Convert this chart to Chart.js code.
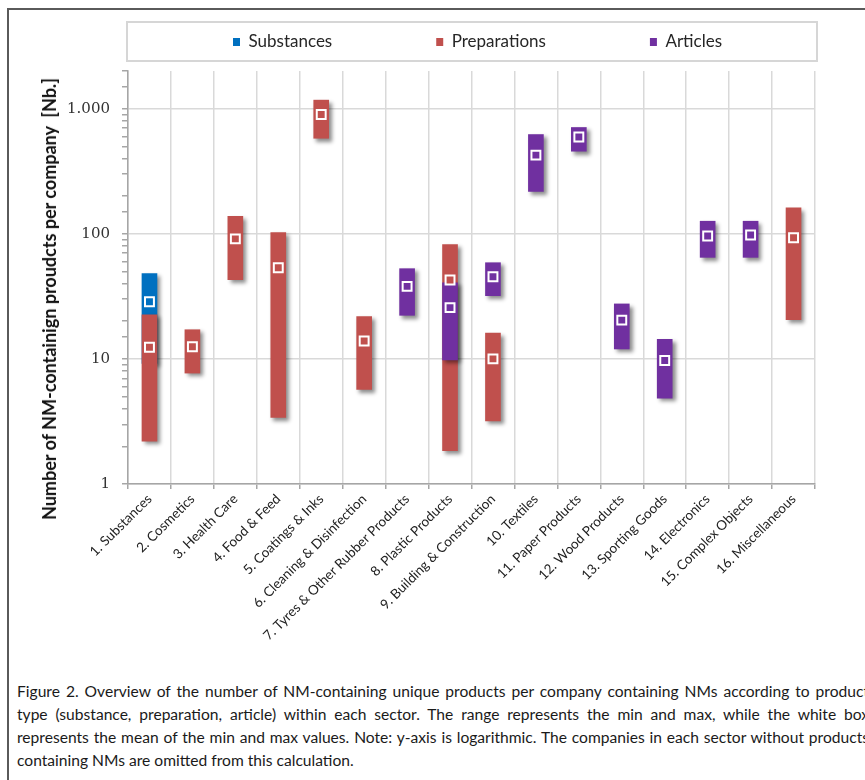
<!DOCTYPE html>
<html>
<head>
<meta charset="utf-8">
<title>NM-containing products per company</title>
<script src="https://cdn.jsdelivr.net/npm/chart.js@4.4.1/dist/chart.umd.min.js"></script>
<style>
  html, body { margin: 0; padding: 0; background: #fff; width: 865px; height: 780px; overflow: hidden; position: relative; font-family: Lato, sans-serif; }
  #frame { position: absolute; left: 7px; top: 8px; width: 900px; height: 820px; border: 2px solid #5a5a5a; box-sizing: border-box; }
  #wrap { position: absolute; left: 0; top: 0; width: 865px; height: 660px; }
  #ytitle { position: absolute; left: 49px; top: 299px; transform: translate(-50%, -50%) rotate(-90deg); white-space: nowrap; font: bold 18px Lato, sans-serif; color: #111; }
  #caption { position: absolute; left: 17px; top: 680px; width: 852px; font-size: 15.6px; line-height: 23px; color: #1a1a1a; }
  #caption div { text-align: justify; text-align-last: justify; }
  #caption div.last { text-align-last: left; }
</style>
</head>
<body>
<div id="frame"></div>
<div id="wrap"><canvas id="chart" width="865" height="660"></canvas></div>
<div id="ytitle">Number of NM-containign proudcts per company&nbsp; [Nb.]</div>
<div id="caption">
  <div>Figure 2. Overview of the number of NM-containing unique products per company containing NMs according to product</div>
  <div>type (substance, preparation, article) within each sector. The range represents the min and max, while the white box</div>
  <div>represents the mean of the min and max values. Note: y-axis is logarithmic. The companies in each sector without products</div>
  <div class="last">containing NMs are omitted from this calculation.</div>
</div>
<script>
// Sectors along the x axis
const categories = [
  '1. Substances', '2. Cosmetics', '3. Health Care', '4. Food & Feed',
  '5. Coatings & Inks', '6. Cleaning & Disinfection', '7. Tyres & Other Rubber Products',
  '8. Plastic Products', '9. Building & Construction', '10. Textiles',
  '11. Paper Products', '12. Wood Products', '13. Sporting Goods',
  '14. Electronics', '15. Complex Objects', '16. Miscellaneous'
];

// Substances: min, max and mean products per company
const substMin  = [9.2, null, null, null, null, null, null, null, null, null, null, null, null, null, null, null];
const substMax  = [48,  null, null, null, null, null, null, null, null, null, null, null, null, null, null, null];
const substMean = [28.6, null, null, null, null, null, null, null, null, null, null, null, null, null, null, null];

// Preparations
const prepMin  = [2.2, 7.7, 43, 3.4, 580, 5.7, null, 1.85, 3.2, null, null, null, null, null, null, 20.6];
const prepMax  = [22.5, 17.1, 138, 102, 1170, 21.8, null, 82, 16.1, null, null, null, null, null, null, 161];
const prepMean = [12.4, 12.5, 91, 53.5, 897, 13.9, null, 42.7, 10.0, null, null, null, null, null, null, 92.9];

// Articles
const artMin  = [null, null, null, null, null, null, 22.3, 9.8, 32, 218, 457, 12.0, 4.86, 64.8, 64.8, null];
const artMax  = [null, null, null, null, null, null, 52.6, 40.6, 58.7, 621, 707, 27.5, 14.3, 126, 126, null];
const artMean = [null, null, null, null, null, null, 38, 25.7, 45.4, 425, 594, 20.4, 9.7, 95.9, 97.7, null];

// Labelled y ticks
const yTickValues = [1, 10, 100, 1000];
const yTickText   = ['1', '10', '100', '1.000'];

const BLUE = '#0070C0', RED = '#C0504D', PURPLE = '#7030A0';
const LEGEND_FONT = 17, LEGEND_GAP = 104;

const ranges = (lo, hi) => lo.map((v, i) => (v == null ? null : [v, hi[i]]));

const barSet = (label, lo, hi, color, order) => ({
  type: 'bar', label, data: ranges(lo, hi), backgroundColor: color,
  borderWidth: 0, grouped: false, barThickness: 15, order
});
const meanSet = (label, values, color) => ({
  type: 'line', label, data: values, showLine: false, isMean: true,
  pointStyle: 'rect', pointRadius: 6.3, pointHoverRadius: 6.3, pointBorderWidth: 2,
  pointBorderColor: '#ffffff', pointBackgroundColor: color, order: 0
});

// soft drop shadow under the range bars
const barShadow = {
  id: 'barShadow',
  beforeDatasetDraw(chart, args) {
    if (args.meta.type !== 'bar') return;
    const c = chart.ctx;
    c.save();
    c.shadowColor = 'rgba(0,0,0,0.45)';
    c.shadowBlur = 4;
    c.shadowOffsetX = 3;
    c.shadowOffsetY = 3;
  },
  afterDatasetDraw(chart, args) {
    if (args.meta.type === 'bar') chart.ctx.restore();
  }
};

// legend placed on one row in a framed strip above the plot
const legendStrip = {
  id: 'legendStrip',
  beforeInit(chart) {
    const lg = chart.legend;
    const fit = lg.fit.bind(lg);
    lg.fit = function () { this.maxWidth = 2000; fit(); this.height = 49; };
  },
  afterLayout(chart) {
    const lg = chart.legend, a = chart.chartArea;
    // widened symmetrically about the plot centre so the row never wraps
    lg.left = a.left + 6 - 300;
    lg.right = a.right + 6 + 300;
    lg.top = 42 - LEGEND_GAP - LEGEND_FONT / 2;
  },
  beforeDraw(chart) {
    const c = chart.ctx, a = chart.chartArea;
    c.save();
    c.strokeStyle = '#d6d6d6';
    c.lineWidth = 2;
    c.strokeRect(a.left - 1, 22, a.right - a.left + 3, 39);
    c.restore();
  }
};

new Chart(document.getElementById('chart'), {
  data: {
    labels: categories,
    datasets: [
      barSet('Substances', substMin, substMax, BLUE, 3),
      barSet('Preparations', prepMin, prepMax, RED, 2),
      barSet('Articles', artMin, artMax, PURPLE, 1),
      meanSet('Substances mean', substMean, BLUE),
      meanSet('Preparations mean', prepMean, RED),
      meanSet('Articles mean', artMean, PURPLE)
    ]
  },
  options: {
    responsive: false,
    animation: false,
    devicePixelRatio: 1,
    layout: { padding: { top: 22, right: 50, left: 0, bottom: 0 } },
    plugins: {
      tooltip: { enabled: false },
      legend: {
        position: 'top',
        labels: {
          boxWidth: 7, boxHeight: 8, padding: LEGEND_GAP, color: '#262626',
          font: { family: 'Lato', size: LEGEND_FONT },
          filter: (item, data) => !data.datasets[item.datasetIndex].isMean,
          sort: (a, b) => a.datasetIndex - b.datasetIndex
        }
      }
    },
    scales: {
      x: {
        grid: { offset: true, color: '#d9d9d9', lineWidth: 1.5, tickColor: '#a6a6a6', tickLength: 5 },
        border: { color: '#a6a6a6', width: 1.5 },
        ticks: {
          maxRotation: 45, minRotation: 45, autoSkip: false, padding: 2,
          color: '#222', font: { family: 'Lato', size: 13.5 }
        },
        afterFit(s) { s.height = 176; s.paddingLeft = 0; s.paddingRight = 0; }
      },
      y: {
        type: 'logarithmic', min: 1, max: 2000,
        grid: {
          color: c => (c.tick && yTickValues.includes(c.tick.value)) ? '#d9d9d9' : 'rgba(0,0,0,0)',
          tickColor: '#a6a6a6', tickLength: 6, lineWidth: 1.5
        },
        border: { color: '#a6a6a6', width: 1.5 },
        ticks: {
          autoSkip: false, padding: 12, color: '#333',
          font: { family: 'DejaVu Serif', size: 15 },
          callback: v => { const k = yTickValues.indexOf(v); return k < 0 ? '' : yTickText[k]; }
        },
        afterFit(s) { s.width = 128; s.paddingTop = 0; s.paddingBottom = 0; }
      }
    }
  },
  plugins: [barShadow, legendStrip]
});
</script>
</body>
</html>
